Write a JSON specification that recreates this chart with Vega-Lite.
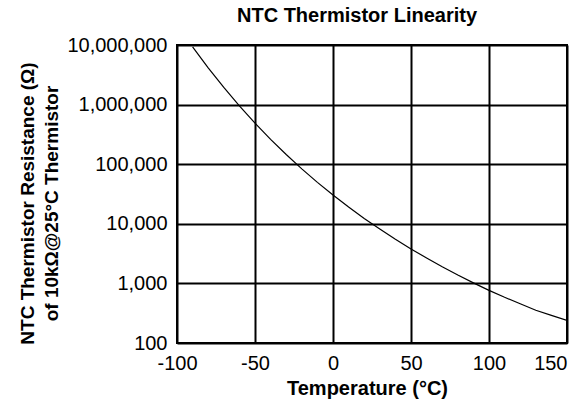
{
  "$schema": "https://vega.github.io/schema/vega-lite/v6.json",
  "width": 390,
  "height": 298,
  "autosize": {"type": "none"},
  "padding": {"left": 177, "top": 45, "right": 4, "bottom": 65},
  "background": "white",
  "title": {
    "text": "NTC Thermistor Linearity",
    "font": "Liberation Sans",
    "fontSize": 20,
    "fontWeight": "bold",
    "color": "black",
    "anchor": "middle",
    "dx": -15,
    "offset": 9
  },
  "data": {
    "values": [
      {"temp": -90, "resistance": 9330000},
      {"temp": -80, "resistance": 4150000},
      {"temp": -70, "resistance": 1940000},
      {"temp": -60, "resistance": 955000},
      {"temp": -50, "resistance": 489000},
      {"temp": -40, "resistance": 261000},
      {"temp": -30, "resistance": 145500},
      {"temp": -20, "resistance": 83500},
      {"temp": -10, "resistance": 49600},
      {"temp": 0, "resistance": 30400},
      {"temp": 10, "resistance": 19100},
      {"temp": 20, "resistance": 12300},
      {"temp": 30, "resistance": 8160},
      {"temp": 40, "resistance": 5500},
      {"temp": 50, "resistance": 3790},
      {"temp": 60, "resistance": 2670},
      {"temp": 70, "resistance": 1900},
      {"temp": 80, "resistance": 1380},
      {"temp": 90, "resistance": 1020},
      {"temp": 100, "resistance": 765},
      {"temp": 110, "resistance": 585},
      {"temp": 120, "resistance": 455},
      {"temp": 130, "resistance": 355},
      {"temp": 140, "resistance": 290},
      {"temp": 150, "resistance": 240}
    ]
  },
  "mark": {"type": "line", "color": "black", "strokeWidth": 1.2, "clip": true},
  "encoding": {
    "x": {
      "field": "temp",
      "type": "quantitative",
      "scale": {"domain": [-100, 150], "nice": false, "zero": false},
      "axis": {
        "values": [-100, -50, 0, 50, 100, 150],
        "labelExpr": "'' + datum.value",
        "title": "Temperature (°C)",
        "labelAlign": {"condition": {"test": "datum.value == 150", "value": "right"}, "value": "center"},
        "titlePadding": 5,
        "labelPadding": 10,
        "titleX": 190
      }
    },
    "y": {
      "field": "resistance",
      "type": "quantitative",
      "scale": {"type": "log", "domain": [100, 10000000], "nice": false},
      "axis": {
        "values": [100, 1000, 10000, 100000, 1000000, 10000000],
        "format": ",d",
        "title": ["NTC Thermistor Resistance (Ω)", "of 10kΩ@25°C Thermistor"],
        "titleFontSize": 19,
        "titlePadding": 5,
        "labelPadding": 10,
        "titleY": 158
      }
    }
  },
  "config": {
    "font": "Liberation Sans",
    "view": {"stroke": "black", "strokeWidth": 2},
    "axis": {
      "domain": false,
      "ticks": false,
      "grid": true,
      "gridColor": "black",
      "gridWidth": 2,
      "gridOpacity": 1,
      "labelFont": "Liberation Sans",
      "labelFontSize": 20,
      "labelColor": "black",
      "titleFont": "Liberation Sans",
      "titleFontSize": 20,
      "titleFontWeight": "bold",
      "titleColor": "black",
      "titleLineHeight": 24,
      "labelOverlap": false,
      "labelBound": false,
      "labelFlush": false
    }
  }
}
